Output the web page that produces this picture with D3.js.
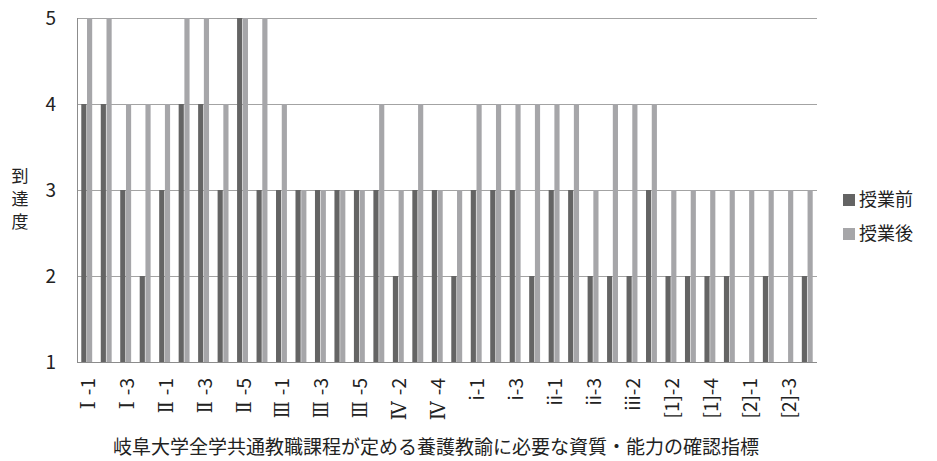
<!DOCTYPE html>
<html>
<head>
<meta charset="utf-8">
<script src="https://cdn.jsdelivr.net/npm/d3@7/dist/d3.min.js"></script>
<style>
  html, body { margin: 0; padding: 0; background: #fff; }
  svg { display: block; }
</style>
</head>
<body>
<svg id="chart" width="937" height="461"></svg>
<script>
// Indicator codes: [group prefix, number]; upper-case roman prefixes are drawn in serif
const categories = [
  ["Ⅰ", 1], ["Ⅰ", 2], ["Ⅰ", 3], ["Ⅰ", 4],
  ["Ⅱ", 1], ["Ⅱ", 2], ["Ⅱ", 3], ["Ⅱ", 4], ["Ⅱ", 5], ["Ⅱ", 6],
  ["Ⅲ", 1], ["Ⅲ", 2], ["Ⅲ", 3], ["Ⅲ", 4], ["Ⅲ", 5],
  ["Ⅳ", 1], ["Ⅳ", 2], ["Ⅳ", 3], ["Ⅳ", 4], ["Ⅳ", 5],
  ["i", 1], ["i", 2], ["i", 3], ["i", 4],
  ["ii", 1], ["ii", 2], ["ii", 3],
  ["iii", 1], ["iii", 2],
  ["[1]", 1], ["[1]", 2], ["[1]", 3], ["[1]", 4], ["[1]", 5],
  ["[2]", 1], ["[2]", 2], ["[2]", 3], ["[2]", 4]
];
const before = [4, 4, 3, 2, 3, 4, 4, 3, 5, 3, 3, 3, 3, 3, 3, 3, 2, 3, 3, 2,
                3, 3, 3, 2, 3, 3, 2, 2, 2, 3, 2, 2, 2, 2, 1, 2, 1, 2];
const after  = [5, 5, 4, 4, 4, 5, 5, 4, 5, 5, 4, 3, 3, 3, 3, 4, 3, 4, 3, 3,
                4, 4, 4, 4, 4, 4, 3, 4, 4, 4, 3, 3, 3, 3, 3, 3, 3, 3];
const seriesNames = ["授業前", "授業後"];
const seriesColors = ["#646464", "#a6a6a9"];
const yTicks = [1, 2, 3, 4, 5];
const xTitle = "岐阜大学全学共通教職課程が定める養護教諭に必要な資質・能力の確認指標";
const yTitle = "到達度";

const svg = d3.select("#chart");
const margin = { left: 77, right: 120, top: 18, bottom: 99 };
const W = 937, H = 461;
const plotW = W - margin.left - margin.right;
const plotH = H - margin.top - margin.bottom;
const sans = "'Noto Sans CJK JP', 'Noto Sans', sans-serif";
const serif = "'DejaVu Serif', 'Liberation Serif', serif";
// advance given to each serif roman numeral in the tick labels
const romanLength = { "Ⅰ": 8, "Ⅱ": 12, "Ⅲ": 17, "Ⅳ": 19 };

const keys = categories.map((c, i) => i);
const x = d3.scaleBand().domain(keys).range([0, plotW]).paddingInner(0.44).paddingOuter(0.22);
const xSub = d3.scaleBand().domain([0, 1]).range([0, x.bandwidth()]).paddingInner(0.1);
const y = d3.scaleLinear().domain([1, 5]).range([plotH, 0]);

const g = svg.append("g").attr("transform", `translate(${margin.left},${margin.top})`);

// horizontal gridlines
g.append("g")
  .selectAll("line")
  .data(yTicks.filter(t => t > 1))
  .join("line")
  .attr("x1", 0).attr("x2", plotW)
  .attr("y1", d => Math.round(y(d)) + 0.5).attr("y2", d => Math.round(y(d)) + 0.5)
  .attr("stroke", "#a3a3a3").attr("stroke-width", 1);

// bars
const values = [before, after];
values.forEach((vals, s) => {
  g.append("g")
    .selectAll("rect")
    .data(vals)
    .join("rect")
    .attr("x", (d, i) => x(i) + xSub(s))
    .attr("width", xSub.bandwidth())
    .attr("y", d => y(d))
    .attr("height", d => y(1) - y(d))
    .attr("fill", seriesColors[s]);
});

// y axis
const yAxis = g.append("g")
  .call(d3.axisLeft(y).tickValues(yTicks).tickFormat(d3.format("d")).tickSize(0).tickPadding(21));
yAxis.select(".domain").attr("stroke", "#8c8c8c");
yAxis.selectAll("text").attr("font-family", sans).attr("font-size", 19).attr("fill", "#222");

// left axis line and bottom axis line
g.append("line").attr("x1", 0.5).attr("x2", 0.5).attr("y1", 0).attr("y2", plotH)
  .attr("stroke", "#8c8c8c");
g.append("line").attr("x1", 0).attr("x2", plotW).attr("y1", plotH + 0.5).attr("y2", plotH + 0.5)
  .attr("stroke", "#8c8c8c");

// x axis labels, rotated, every other category
const labelG = g.append("g").attr("transform", `translate(0,${plotH + 16})`);
keys.filter(i => i % 2 === 0).forEach(i => {
  const [pre, num] = categories[i];
  const cx = x(i) + x.bandwidth() / 2;
  const isRoman = pre in romanLength;
  const t = labelG.append("text")
    .attr("transform", `translate(${cx + 8},0) rotate(-90)`)
    .attr("text-anchor", "end")
    .attr("font-size", 19)
    .attr("fill", "#222");
  const p = t.append("tspan")
    .attr("font-family", isRoman ? serif : sans)
    .text(pre);
  if (isRoman) {
    p.attr("font-size", 21)
      .attr("textLength", romanLength[pre])
      .attr("lengthAdjust", "spacingAndGlyphs");
  }
  t.append("tspan").attr("font-family", sans).attr("dx", isRoman ? 6 : 0).text("-" + num);
});

// x axis title
svg.append("text")
  .attr("x", 113)
  .attr("y", 454)
  .attr("text-anchor", "start")
  .attr("font-family", sans)
  .attr("font-size", 19)
  .attr("fill", "#222")
  .text(xTitle);

// y axis title, set vertically
svg.append("text")
  .attr("x", 20)
  .attr("y", 167)
  .attr("writing-mode", "vertical-rl")
  .style("writing-mode", "vertical-rl")
  .attr("letter-spacing", 6)
  .attr("font-family", sans).attr("font-size", 17).attr("fill", "#222")
  .text(yTitle);

// legend
const legend = svg.append("g").attr("transform", "translate(843,0)");
seriesNames.forEach((name, s) => {
  const cy = 200 + s * 34;
  legend.append("rect").attr("x", 0).attr("y", cy - 6).attr("width", 12).attr("height", 12)
    .attr("fill", seriesColors[s]);
  legend.append("text").attr("x", 16).attr("y", cy).attr("dy", "0.36em")
    .attr("font-family", sans).attr("font-size", 18).attr("fill", "#222").text(name);
});
</script>
</body>
</html>
